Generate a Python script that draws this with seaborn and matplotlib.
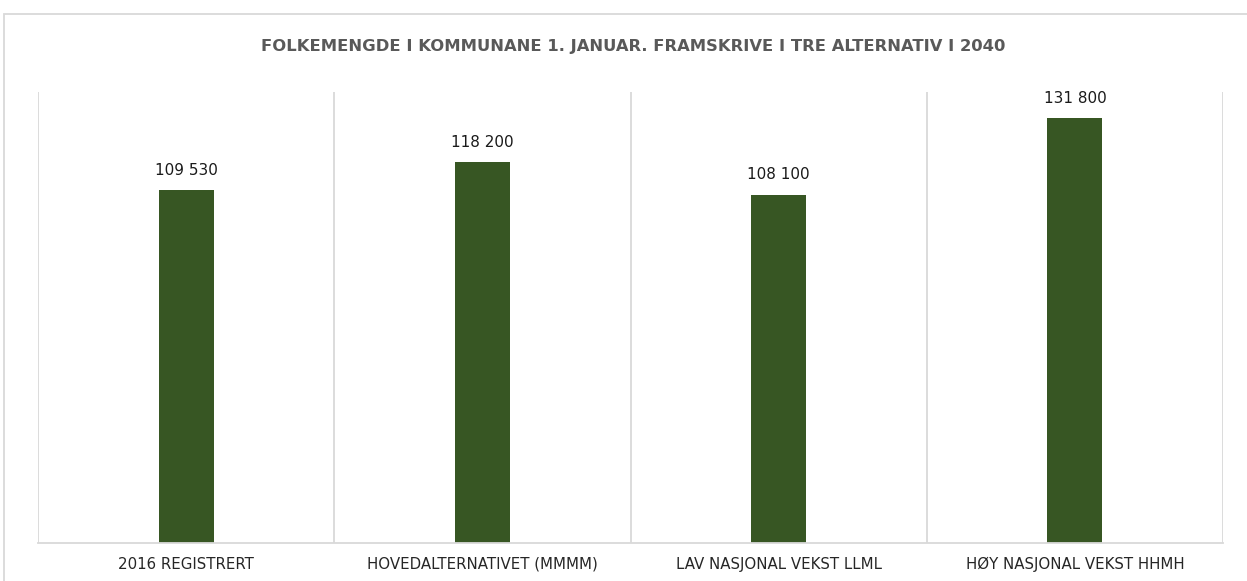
import matplotlib
matplotlib.use("Agg")
import matplotlib.pyplot as plt
from matplotlib.patches import Rectangle
import seaborn as sns
import pandas as pd

categories = [
    "2016 REGISTRERT",
    "HOVEDALTERNATIVET (MMMM)",
    "LAV NASJONAL VEKST LLML",
    "HØY NASJONAL VEKST HHMH",
]
population = [109530, 118200, 108100, 131800]
title = "FOLKEMENGDE I KOMMUNANE 1. JANUAR. FRAMSKRIVE I TRE ALTERNATIV I 2040"

df = pd.DataFrame({"alternativ": categories, "folkemengde": population})

sns.set_theme(style="white")
plt.rcParams["font.family"] = ["DejaVu Sans"]

W, H = 1247, 581
fig = plt.figure(figsize=(W / 100, H / 100), dpi=100)
ax = fig.add_axes([38 / W, 1 - 543 / H, (1223 - 38) / W, (543 - 92) / H])

bar_color = "#375623"
grid_color = "#d9d9d9"

sns.barplot(data=df, x="alternativ", y="folkemengde", color=bar_color,
            width=0.185, saturation=1, linewidth=0, ax=ax)

ax.set_ylim(0, 140000)
ax.set_xlim(-0.5, len(categories) - 0.5)

# category separators
for xb in [i - 0.5 for i in range(len(categories) + 1)]:
    ax.axvline(xb, color=grid_color, lw=1.3, zorder=0)

for side in ["top", "left", "right"]:
    ax.spines[side].set_visible(False)
ax.spines["bottom"].set_color(grid_color)
ax.spines["bottom"].set_linewidth(1.3)

ax.set_yticks([])
ax.set_xlabel("")
ax.set_ylabel("")
ax.tick_params(axis="x", length=0, pad=10, labelsize=10.8, labelcolor="#262626")

labels = [f"{v:,}".replace(",", " ") for v in population]
ax.bar_label(ax.containers[0], labels=labels, padding=9, fontsize=11,
             color="#1a1a1a")

fig.text(633 / W, 1 - 46 / H, title, ha="center", va="center",
         fontsize=11.8, fontweight="bold", color="#595959")

# outer chart frame
fig.patches.append(Rectangle((4 / W, -0.05), 1.1, 1 - 14 / H + 0.05,
                             transform=fig.transFigure, fill=False,
                             edgecolor=grid_color, lw=1.3))

fig.savefig("out.png", dpi=100)
